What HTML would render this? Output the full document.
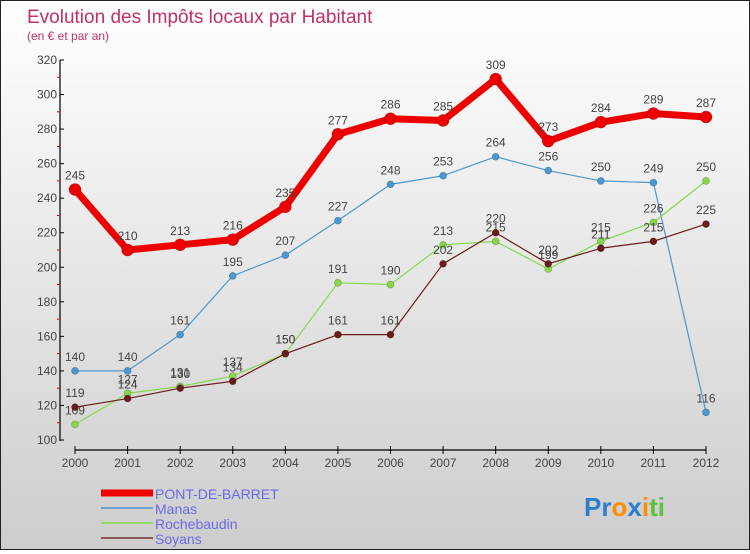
<!DOCTYPE html>
<html><head><meta charset="utf-8"><style>
html,body{margin:0;padding:0}
body{width:750px;height:550px;overflow:hidden;font-family:"Liberation Sans",sans-serif}
#wrap{position:relative;width:748px;height:548px;border:1px solid #222;background:linear-gradient(#ffffff,#cdcdcd)}
</style></head><body>
<div id="wrap">
<svg id="chart" width="748" height="548"></svg>
</div>
<script>
const years=["2000","2001","2002","2003","2004","2005","2006","2007","2008","2009","2010","2011","2012"];
const pontDeBarret=[245,210,213,216,235,277,286,285,309,273,284,289,287];
const manas=[140,140,161,195,207,227,248,253,264,256,250,249,116];
const rochebaudin=[109,127,131,137,150,191,190,213,215,199,215,226,250];
const soyans=[119,124,130,134,150,161,161,202,220,202,211,215,225];
const yTicks=[100,120,140,160,180,200,220,240,260,280,300,320];
const seriesNames=["PONT-DE-BARRET","Manas","Rochebaudin","Soyans"];

const NS="http://www.w3.org/2000/svg";
const svg=document.getElementById('chart');
function x(i){return 74+i*(705-74)/(years.length-1);}
function y(v){return 439-(v-100)*(439-59)/(320-100);}
function mk(tag,attrs,parent){const e=document.createElementNS(NS,tag);for(const k in attrs)e.setAttribute(k,attrs[k]);(parent||svg).appendChild(e);return e;}
function txt(s,attrs,parent){const e=mk('text',attrs,parent);e.textContent=s;return e;}

const title=txt("Evolution des Impôts locaux par Habitant",{x:26,y:22,'font-size':19,fill:'#c0306a'});


const sub=txt("(en € et par an)",{x:26,y:39,'font-size':12,fill:'#c0306a'});



const yAxis=mk('g',{});


mk('line',{x1:59,y1:59,x2:59,y2:440,stroke:'#000','stroke-width':1.2},yAxis);
yTicks.forEach(v=>{
  mk('line',{x1:59,y1:y(v),x2:63,y2:y(v),stroke:'#000'},yAxis);
  const t=txt(v,{x:56,y:y(v)+4,'font-size':12,'text-anchor':'end',fill:'#444'},yAxis);
  
  
  if(v<320) mk('line',{x1:56,y1:y(v+10),x2:59,y2:y(v+10),stroke:'#e00'},yAxis);
});
const xAxis=mk('g',{});


mk('line',{x1:74,y1:449,x2:705,y2:449,stroke:'#000','stroke-width':1.2},xAxis);
years.forEach((yr,i)=>{
  mk('line',{x1:x(i),y1:445,x2:x(i),y2:453,stroke:'#000'},xAxis);
  const t=txt(yr,{x:x(i),y:466,'font-size':12,'text-anchor':'middle',fill:'#444'},xAxis);
  
  
});

function series(vals,color,width,r,name){
  const g=mk('g',{});
  
  
  mk('polyline',{points:vals.map((v,i)=>x(i)+','+y(v)).join(' '),fill:'none',stroke:color,'stroke-width':width,'stroke-linejoin':'round'},g);
  vals.forEach((v,i)=>{
    const c=mk('circle',{cx:x(i),cy:y(v),r:r,fill:color,stroke:'rgba(0,0,0,0.3)','stroke-width':0.6},g);
    
    
    const t=txt(v,{x:x(i),y:y(v)-10,'font-size':12,'text-anchor':'middle',fill:'#444'},g);
    
    
  });
}
series(manas,'#4a98d0',1.2,3.5,'manas-series');
series(rochebaudin,'#86d84a',1.2,3.5,'rochebaudin-series');
series(soyans,'#6b1a1a',1.2,3.5,'soyans-series');
series(pontDeBarret,'#ee0000',7,6,'pont-de-barret-series');

const leg=mk('g',{});


const legColors=['#ee0000','#6a9fd0','#96d86a','#8a5a5a'];
const legW=[7,2,2,2];
seriesNames.forEach((n,i)=>{
  const yy=492+i*15;
  const e=mk('g',{},leg);
  
  
  mk('line',{x1:100,y1:yy,x2:152,y2:yy,stroke:legColors[i],'stroke-width':legW[i]},e);
  txt(n,{x:154,y:yy+6,'font-size':14,fill:'#6a6ae8'},e);
});
const logo=mk('text',{x:583,y:515,'font-size':26,'font-weight':'bold'});


[['P','#2a7fd0'],['r','#2a7fd0'],['o','#ff8c00'],['x','#2a7fd0'],['i','#ff8c00'],['t','#5cc040'],['i','#5cc040']].forEach(([c,col])=>{
  const s=mk('tspan',{fill:col},logo);s.textContent=c;
});
</script>
</body></html>
